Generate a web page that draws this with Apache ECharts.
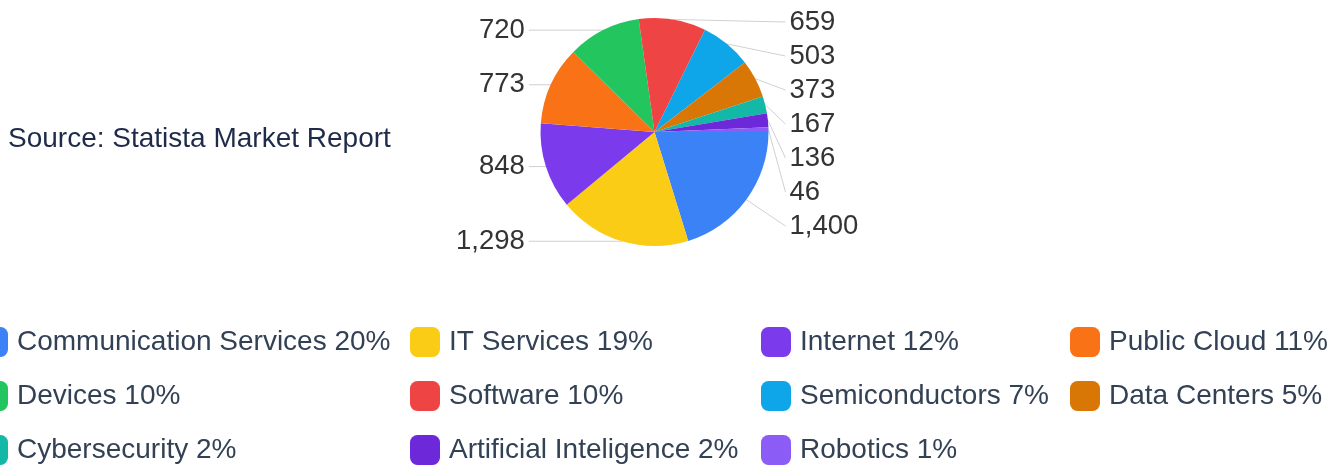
<!DOCTYPE html>
<html><head><meta charset="utf-8">
<script src="https://cdn.jsdelivr.net/npm/echarts@6/dist/echarts.min.js"></script>
<style>html,body{margin:0;padding:0;background:#fff}#c{width:1338px;height:465px}</style>
</head><body><div id="c"></div>
<script>
const categories = ['Communication Services','IT Services','Internet','Public Cloud','Devices','Software','Semiconductors','Data Centers','Cybersecurity','Artificial Inteligence','Robotics'];
const values = [1400,1298,848,773,720,659,503,373,167,136,46];
const colors = ['#3b82f6','#facc15','#7c3aed','#f97316','#22c55e','#ef4444','#0ea5e9','#d97706','#14b8a6','#6d28d9','#8b5cf6'];
const sourceText = 'Source: Statista Market Report';
const legendColumns = [[0,4,8],[1,5,9],[2,6,10],[3,7]];
const legendLefts = [-22, 410, 761, 1070];

const total = values.reduce((a,b)=>a+b,0);
const pct = {};
categories.forEach((n,i)=>{ pct[n] = Math.round(values[i]/total*100); });
const FONT = '"Liberation Sans", Arial, sans-serif';

const legends = legendColumns.map((col,ci)=>({
  orient:'vertical', left:legendLefts[ci], top:327, padding:0,
  itemWidth:30, itemHeight:30, itemGap:24, icon:'roundRect',
  selectedMode:false,
  data: col.map(i=>categories[i]),
  formatter: n => n + ' ' + pct[n] + '%',
  textStyle:{fontSize:28, color:'#334155', fontFamily:FONT, padding:[0,0,0,4]}
}));

const chart = echarts.init(document.getElementById('c'));
chart.setOption({
  animation:false,
  title:{text:sourceText, left:8, top:125, padding:0,
    textStyle:{fontSize:28, fontWeight:'normal', color:'#1e2b4a', fontFamily:FONT}},
  legend: legends,
  series:[{
    type:'pie', left:0, right:0, top:5, bottom:0,
    center:[654.5,127], radius:114, startAngle:0, clockwise:true,
    avoidLabelOverlap:true,
    emphasis:{disabled:true},
    data: categories.map((n,i)=>({name:n, value:values[i], itemStyle:{color:colors[i]}})),
    label:{
      formatter: p => p.value.toLocaleString('en-US'),
      fontSize:27.5, color:'#333333', fontFamily:FONT,
      alignTo:'labelLine', distanceToLabelLine:4, lineHeight:32
    },
    labelLine:{length:0, length2:17, lineStyle:{color:'#d0d0d0', width:1}},
    labelLayout: function(params){
      const pts = params.labelLinePoints;
      if (!pts || pts.length < 3) return {};
      return {labelLinePoints:[pts[0], pts[2], pts[2]]};
    }
  }]
});
</script></body></html>
